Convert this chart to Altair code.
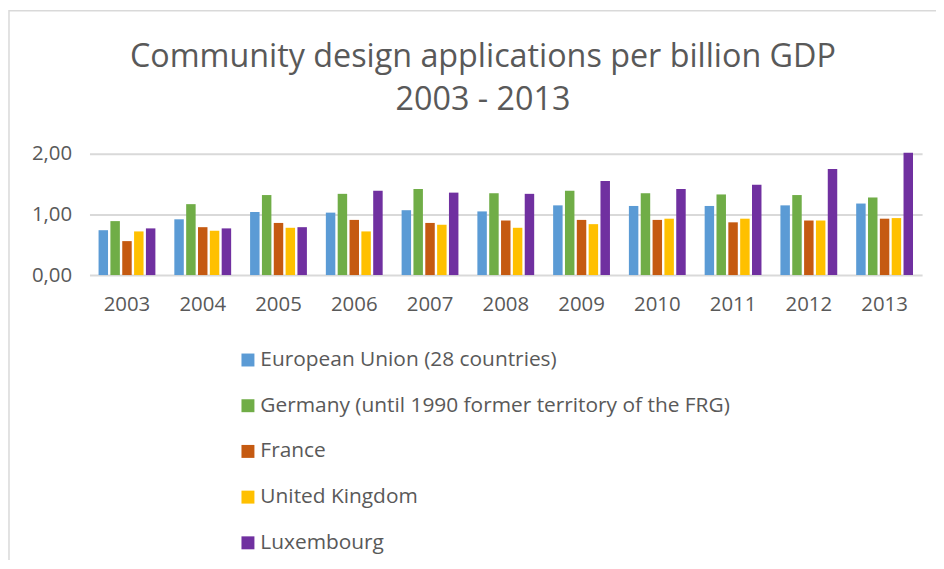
import altair as alt
import pandas as pd

years = ["2003", "2004", "2005", "2006", "2007", "2008", "2009", "2010", "2011", "2012", "2013"]
series = [
    "European Union (28 countries)",
    "Germany (until 1990 former territory of the FRG)",
    "France",
    "United Kingdom",
    "Luxembourg",
]
eu = [0.74, 0.92, 1.04, 1.03, 1.07, 1.05, 1.15, 1.14, 1.14, 1.15, 1.18]
de = [0.89, 1.17, 1.32, 1.34, 1.42, 1.35, 1.39, 1.35, 1.33, 1.32, 1.28]
fr = [0.56, 0.79, 0.86, 0.91, 0.86, 0.90, 0.91, 0.91, 0.87, 0.90, 0.93]
uk = [0.72, 0.73, 0.78, 0.72, 0.83, 0.78, 0.84, 0.93, 0.93, 0.90, 0.94]
lu = [0.77, 0.77, 0.79, 1.39, 1.36, 1.34, 1.55, 1.42, 1.49, 1.75, 2.02]
colors = ["#5b9bd5", "#70ad47", "#c55a11", "#ffc000", "#7030a0"]
title_lines = ["Community design applications per billion GDP", "2003 - 2013"]

rows = []
for name, vals in zip(series, [eu, de, fr, uk, lu]):
    for y, v in zip(years, vals):
        rows.append({"year": y, "series": name, "value": v})
df = pd.DataFrame(rows)

grey = "#595959"
font = "Open Sans"

bars = alt.Chart(df).mark_bar(clip=False).encode(
    x=alt.X("year:N", sort=years, title=None,
            scale=alt.Scale(paddingInner=0.25, paddingOuter=0.12),
            axis=alt.Axis(labelAngle=0, labelFontSize=20.5, labelColor=grey, labelFont=font,
                          ticks=False, domain=False, labelPadding=20)),
    xOffset=alt.XOffset("series:N", sort=series, scale=alt.Scale(paddingInner=0.2)),
    y=alt.Y("value:Q", title=None,
            scale=alt.Scale(domain=[0, 2], nice=False),
            axis=alt.Axis(values=[0, 1, 2], labelFontSize=20.5, labelColor=grey, labelFont=font,
                          labelExpr="replace(format(datum.value, '.2f'), '.', ',')",
                          ticks=False, domain=False, labelPadding=18,
                          gridColor="#d9d9d9", gridWidth=2)),
    color=alt.Color("series:N", sort=series,
                    scale=alt.Scale(domain=series, range=colors),
                    legend=alt.Legend(title=None, orient="none", legendX=149, legendY=197,
                                      direction="vertical", symbolType="square", symbolSize=170,
                                      symbolStrokeWidth=0, labelFontSize=21, labelColor=grey,
                                      labelFont=font, labelLimit=700, rowPadding=24,
                                      labelOffset=2)),
)

frame = alt.Chart(pd.DataFrame({"a": [0]})).mark_rect(
    fill=None, stroke="#d9d9d9", strokeWidth=1.5, clip=False
).encode(
    x=alt.value(-81), x2=alt.value(870), y=alt.value(-144), y2=alt.value(440)
)

title1 = alt.Chart(pd.DataFrame({"t": [title_lines[0]]})).mark_text(
    font=font, fontSize=32.5, color=grey, align="center", baseline="alphabetic", clip=False
).encode(text="t:N", x=alt.value(396), y=alt.value(-87))

title2 = alt.Chart(pd.DataFrame({"t": [title_lines[1]]})).mark_text(
    font=font, fontSize=32.5, color=grey, align="center", baseline="alphabetic", clip=False
).encode(text="t:N", x=alt.value(396), y=alt.value(-44))

chart = alt.layer(frame, bars, title1, title2).properties(
    width=838, height=122,
    autosize=alt.AutoSizeParams(type="none"),
    padding={"left": 82, "top": 145, "right": 14, "bottom": 285},
).configure_view(stroke=None)

chart.save("out.html", embed_options={"renderer": "svg", "actions": False})
